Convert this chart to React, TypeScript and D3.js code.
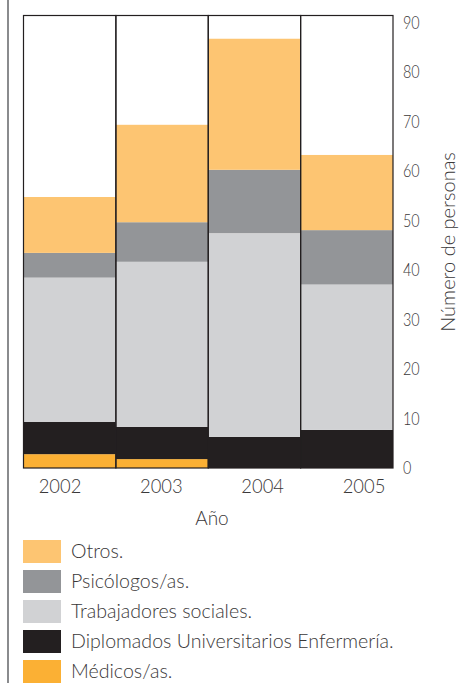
import React from "react";
import * as d3 from "d3";

const years = ["2002", "2003", "2004", "2005"];
const seriesNames = [
  "Médicos/as.",
  "Diplomados Universitarios Enfermería.",
  "Trabajadores sociales.",
  "Psicólogos/as.",
  "Otros.",
];
const medicos = [2.8, 1.8, 0, 0];
const enfermeria = [6.5, 6.5, 6.3, 7.7];
const trabajadores = [29.2, 33.4, 41.2, 29.4];
const psicologos = [5.0, 8.0, 12.8, 11.0];
const otros = [11.3, 19.7, 26.5, 15.2];
const yTicks = [0, 10, 20, 30, 40, 50, 60, 70, 80, 90];
const legendOrder = [
  "Otros.",
  "Psicólogos/as.",
  "Trabajadores sociales.",
  "Diplomados Universitarios Enfermería.",
  "Médicos/as.",
];

const colors: Record<string, string> = {
  "Médicos/as.": "#FBB034",
  "Diplomados Universitarios Enfermería.": "#231F20",
  "Trabajadores sociales.": "#D1D2D4",
  "Psicólogos/as.": "#939598",
  "Otros.": "#FDC572",
};

const FONT = "Lato, 'Open Sans', sans-serif";
const TXT = "#3a3839";

export default function App() {
  const seriesValues = [medicos, enfermeria, trabajadores, psicologos, otros];
  const rows = years.map((y, i) => {
    const r: any = { year: y };
    seriesNames.forEach((s, k) => (r[s] = seriesValues[k][i]));
    return r;
  });
  const stack = d3.stack<any>().keys(seriesNames)(rows);

  const x = d3.scaleBand<string>().domain(years).range([23.5, 393]).padding(0);
  const y = d3.scaleLinear().domain([0, 91.5]).range([468, 15.5]);
  const xl = d3.scalePoint<string>().domain(years).range([60, 364]);

  return (
    <svg
      width={460}
      height={683}
      style={{ position: "absolute", left: 0, top: 0, background: "#fff" }}
    >
      <line x1={8} x2={8} y1={0} y2={683} stroke="#6d6e71" strokeWidth={1.6} />
      {stack.map((layer) => (
        <g key={layer.key} fill={colors[layer.key]}>
          {layer.map((d, i) =>
            d[1] - d[0] > 0 ? (
              <rect
                key={i}
                x={x(years[i])!}
                width={x.bandwidth()}
                y={y(d[1])}
                height={y(d[0]) - y(d[1])}
              />
            ) : null
          )}
        </g>
      ))}
      {years.map((yr) => (
        <rect
          key={yr}
          x={x(yr)!}
          y={y(91.5)}
          width={x.bandwidth()}
          height={y(0) - y(91.5)}
          fill="none"
          stroke="#231F20"
          strokeWidth={1.2}
        />
      ))}
      {yTicks.map((t) => (
        <text
          key={t}
          transform={`translate(403,${y(t) + 6}) scale(0.8,1)`}
          fontFamily={FONT}
          fontWeight={300}
          fontSize={18}
          fill={TXT}
        >
          {t}
        </text>
      ))}
      <text
        transform={`translate(455,${242}) rotate(-90)`}
        textAnchor="middle"
        fontFamily={FONT}
        fontWeight={300}
        fontSize={20}
        fill={TXT}
      >
        Número de personas
      </text>
      {years.map((yr) => (
        <text
          key={yr}
          transform={`translate(${xl(yr)!},493) scale(0.92,1)`}
          textAnchor="middle"
          fontFamily={FONT}
          fontWeight={300}
          fontSize={20}
          fill={TXT}
        >
          {yr}
        </text>
      ))}
      <text
        x={212}
        y={525}
        textAnchor="middle"
        fontFamily={FONT}
        fontWeight={300}
        fontSize={19}
        fill={TXT}
      >
        Año
      </text>
      {legendOrder.map((s, i) => (
        <g key={s} transform={`translate(23,${540 + i * 30})`}>
          <rect x={0} y={0} width={38} height={23} fill={colors[s]} />
          <text
            x={48}
            y={18}
            fontFamily={FONT}
            fontWeight={300}
            fontSize={19.6}
            fill={TXT}
          >
            {s}
          </text>
        </g>
      ))}
    </svg>
  );
}
